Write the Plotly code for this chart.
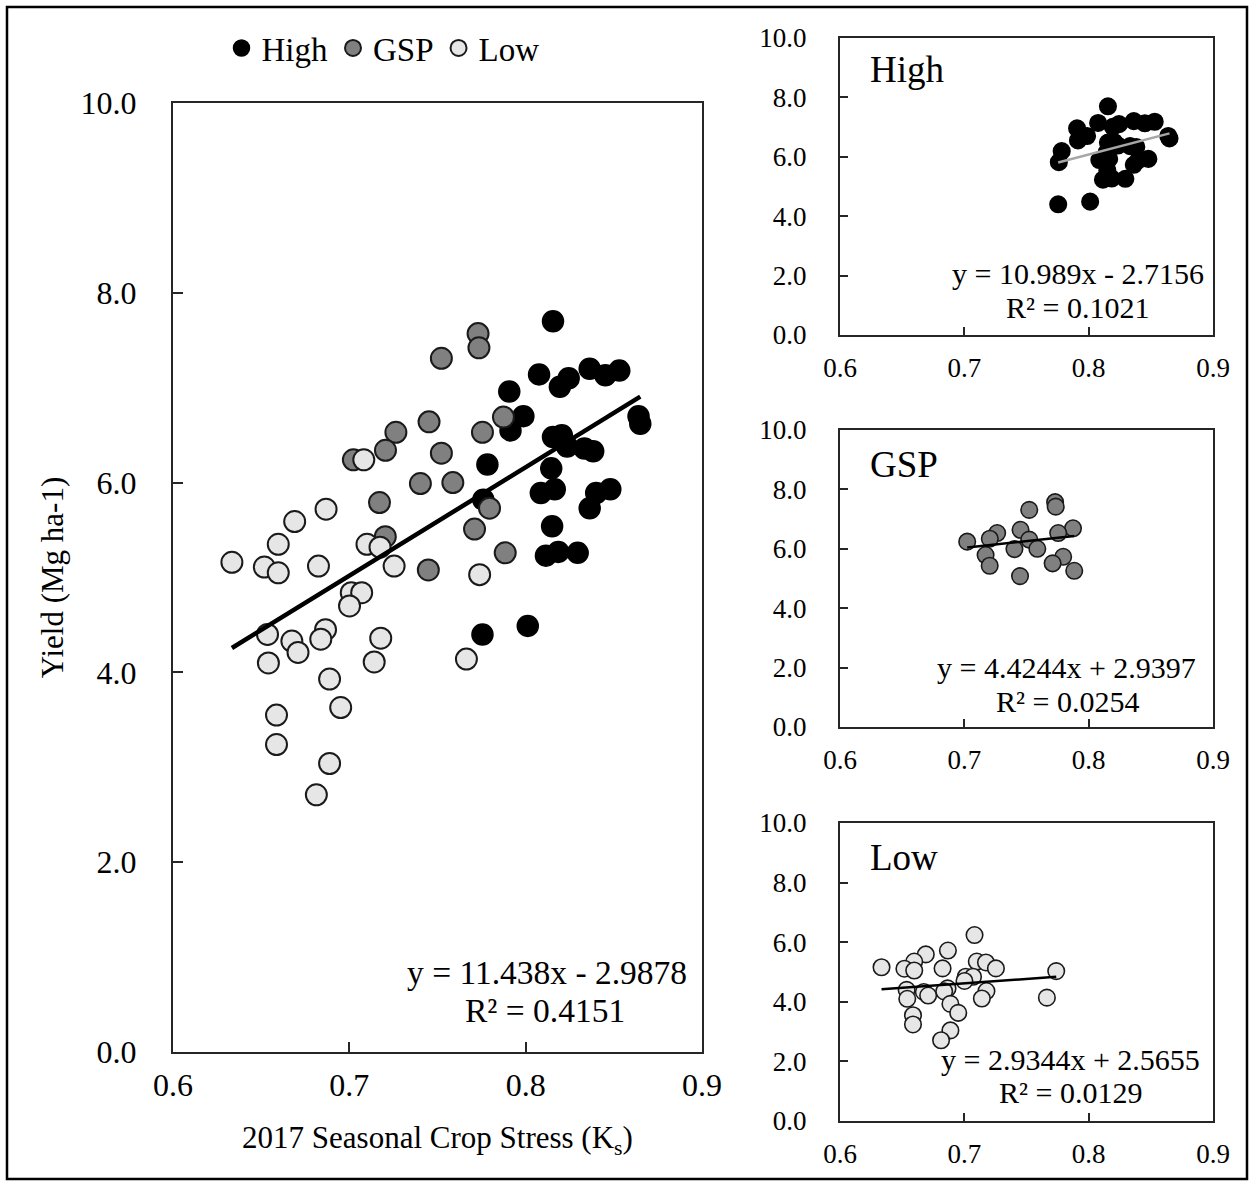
import plotly.graph_objects as go

# ---------------- data ----------------
high_x = [0.8155, 0.8076, 0.8194, 0.8244, 0.8363, 0.8452, 0.8531, 0.7907, 0.7987, 0.7914,
          0.8640, 0.8650, 0.8155, 0.8205, 0.8235, 0.8383, 0.8333, 0.8145, 0.7783, 0.8086,
          0.8165, 0.8400, 0.8480, 0.8363, 0.8150, 0.8115, 0.8185, 0.8295, 0.7755, 0.8012,
          0.7760]
high_y = [7.70, 7.14, 7.01, 7.10, 7.20, 7.13, 7.18, 6.96, 6.70, 6.55,
          6.70, 6.62, 6.48, 6.50, 6.38, 6.33, 6.36, 6.15, 6.19, 5.89,
          5.93, 5.89, 5.93, 5.73, 5.54, 5.23, 5.27, 5.26, 4.40, 4.49,
          5.82]

gsp_x = [0.7730, 0.7735, 0.7522, 0.7874, 0.7452, 0.7755, 0.7264, 0.7205, 0.7522, 0.7023,
         0.7403, 0.7587, 0.7171, 0.7795, 0.7710, 0.7204, 0.7884, 0.7448]
gsp_y = [7.57, 7.42, 7.31, 6.69, 6.64, 6.53, 6.53, 6.34, 6.31, 6.24,
         5.99, 6.00, 5.79, 5.73, 5.51, 5.43, 5.26, 5.08]

low_x = [0.7082, 0.6868, 0.6690, 0.6597, 0.7100, 0.7174, 0.6334, 0.6518, 0.6597, 0.6825,
         0.7254, 0.7739, 0.7011, 0.7070, 0.7001, 0.6536, 0.6865, 0.6674, 0.6709, 0.6838,
         0.7178, 0.6541, 0.7141, 0.7664, 0.6888, 0.6951, 0.6587, 0.6587, 0.6888, 0.6813]
low_y = [6.24, 5.72, 5.59, 5.35, 5.35, 5.32, 5.16, 5.11, 5.05, 5.12,
         5.12, 5.03, 4.84, 4.84, 4.70, 4.40, 4.45, 4.33, 4.21, 4.35,
         4.36, 4.10, 4.11, 4.14, 3.93, 3.63, 3.55, 3.24, 3.04, 2.71]

# trend-line coefficients (slope, intercept) and R² as printed on the chart
fit_all = (11.438, -2.9878, 0.4151)
fit_high = (10.989, -2.7156, 0.1021)
fit_gsp = (4.4244, 2.9397, 0.0254)
fit_low = (2.9344, 2.5655, 0.0129)

group_names = ["High", "GSP", "Low"]
x_ticks = [0.6, 0.7, 0.8, 0.9]
y_ticks = [0.0, 2.0, 4.0, 6.0, 8.0, 10.0]

# ---------------- styling ----------------
W, H = 1253, 1184
FONT = "Liberation Serif"
C_HIGH, C_GSP, C_LOW = "#000000", "#808080", "#e6e6e6"
EDGE = "#1a1a1a"
AXC = "#262626"


def px_x(p):
    return p / W


def px_y(p):
    return 1 - p / H


fig = go.Figure()


def eq_text(fit):
    a, b, _ = fit
    sign = "-" if b < 0 else "+"
    return f"y = {a:.3f}x {sign} {abs(b):.4f}" if abs(a) >= 10 else f"y = {a:.4f}x {sign} {abs(b):.4f}"


def line_trace(xs, fit, xa, ya, color, width):
    lo, hi = min(xs), max(xs)
    a, b, _ = fit
    return go.Scatter(x=[lo, hi], y=[a * lo + b, a * hi + b], mode="lines",
                      line=dict(color=color, width=width), showlegend=False,
                      hoverinfo="skip", xaxis=xa, yaxis=ya)


# main panel
fig.add_trace(go.Scatter(x=high_x, y=high_y, mode="markers", name=group_names[0],
                         marker=dict(size=21, color=C_HIGH, line=dict(color=C_HIGH, width=1.5)),
                         xaxis="x", yaxis="y"))
fig.add_trace(go.Scatter(x=gsp_x, y=gsp_y, mode="markers", name=group_names[1],
                         marker=dict(size=21, color=C_GSP, line=dict(color=EDGE, width=2)),
                         xaxis="x", yaxis="y"))
fig.add_trace(go.Scatter(x=low_x, y=low_y, mode="markers", name=group_names[2],
                         marker=dict(size=21, color=C_LOW, line=dict(color=EDGE, width=2)),
                         xaxis="x", yaxis="y"))
all_x = high_x + gsp_x + low_x
fig.add_trace(line_trace(all_x, fit_all, "x", "y", "#000000", 4.5))

# small panels
small = [
    (high_x, high_y, C_HIGH, C_HIGH, fit_high, "x2", "y2", "#a6a6a6"),
    (gsp_x, gsp_y, C_GSP, EDGE, fit_gsp, "x3", "y3", "#000000"),
    (low_x, low_y, C_LOW, EDGE, fit_low, "x4", "y4", "#000000"),
]
for xs, ys, fc, ec, fit, xa, ya, lc in small:
    fig.add_trace(go.Scatter(x=xs, y=ys, mode="markers", showlegend=False,
                             marker=dict(size=16.5, color=fc, line=dict(color=ec, width=1.6)),
                             xaxis=xa, yaxis=ya))
    fig.add_trace(line_trace(xs, fit, xa, ya, lc, 2.5))


def xaxis_cfg(dom, size, standoff, title=None):
    d = dict(domain=dom, range=[0.6, 0.9], tickvals=x_ticks, tickformat=".1f",
             ticks="inside", ticklen=10 if size > 28 else 8, tickwidth=2, tickcolor=AXC,
             showline=True, linecolor=AXC, linewidth=2, mirror=True,
             showgrid=False, zeroline=False, fixedrange=True,
             tickfont=dict(family=FONT, size=size, color="#000"),
             ticklabelstandoff=standoff, automargin=False)
    if title:
        d["title"] = dict(text=title, font=dict(family=FONT, size=31, color="#000"), standoff=24)
    return d


def yaxis_cfg(dom, anchor, size, standoff, title=None):
    d = dict(domain=dom, range=[0, 10], tickvals=y_ticks, tickformat=".1f", anchor=anchor,
             ticks="inside", ticklen=10 if size > 28 else 8, tickwidth=2, tickcolor=AXC,
             showline=True, linecolor=AXC, linewidth=2, mirror=True,
             showgrid=False, zeroline=False, fixedrange=True,
             tickfont=dict(family=FONT, size=size, color="#000"),
             ticklabelstandoff=standoff, automargin=False)
    if title:
        d["title"] = dict(text=title, font=dict(family=FONT, size=31, color="#000"), standoff=8)
    return d


main_xd = [px_x(173), px_x(702)]
main_yd = [px_y(1052), px_y(103)]
sx = [px_x(840), px_x(1213)]
high_yd = [px_y(335), px_y(38)]
gsp_yd = [px_y(727), px_y(430)]
low_yd = [px_y(1121), px_y(823)]

fig.update_layout(
    width=W, height=H, margin=dict(l=0, r=0, t=0, b=0),
    paper_bgcolor="white", plot_bgcolor="white",
    font=dict(family=FONT, color="#000"),
    xaxis=xaxis_cfg(main_xd, 32, 4, "2017 Seasonal Crop Stress (K<sub>s</sub>)") | dict(anchor="y"),
    yaxis=yaxis_cfg(main_yd, "x", 32, 28, "Yield (Mg ha-1)"),
    xaxis2=xaxis_cfg(sx, 27, 8) | dict(anchor="y2"),
    yaxis2=yaxis_cfg(high_yd, "x2", 27, 26),
    xaxis3=xaxis_cfg(sx, 27, 8) | dict(anchor="y3"),
    yaxis3=yaxis_cfg(gsp_yd, "x3", 27, 26),
    xaxis4=xaxis_cfg(sx, 27, 8) | dict(anchor="y4"),
    yaxis4=yaxis_cfg(low_yd, "x4", 27, 26),
    legend=dict(orientation="h", x=px_x(383), y=px_y(48), xanchor="center", yanchor="middle",
                font=dict(family=FONT, size=33, color="#000"), bgcolor="rgba(0,0,0,0)",
                itemwidth=30, tracegroupgap=0),
    showlegend=True,
)

ann = []


def add_eq(fit, xc1, yc1, xc2, yc2, size):
    ann.append(dict(text=eq_text(fit), x=px_x(xc1), y=px_y(yc1), xref="paper", yref="paper",
                    xanchor="center", yanchor="middle", showarrow=False,
                    font=dict(family=FONT, size=size, color="#000")))
    ann.append(dict(text=f"R² = {fit[2]:.4f}", x=px_x(xc2), y=px_y(yc2), xref="paper", yref="paper",
                    xanchor="center", yanchor="middle", showarrow=False,
                    font=dict(family=FONT, size=size, color="#000")))


add_eq(fit_all, 547, 972, 545, 1010, 33.5)
add_eq(fit_high, 1078, 273, 1077, 307, 30)
add_eq(fit_gsp, 1066, 667, 1067, 701, 30)
add_eq(fit_low, 1070, 1059, 1070, 1092, 30)

for name, yc in zip(group_names, [70, 464, 857]):
    ann.append(dict(text=name, x=px_x(868), y=px_y(yc), xref="paper", yref="paper",
                    xanchor="left", yanchor="middle", showarrow=False,
                    font=dict(family=FONT, size=37, color="#000")))

fig.update_layout(annotations=ann)

# outer frame around the whole figure
fig.add_shape(type="rect", xref="paper", yref="paper",
              x0=px_x(7), x1=px_x(1247), y0=px_y(1179), y1=px_y(7),
              line=dict(color="#000", width=2.5), fillcolor="rgba(0,0,0,0)", layer="below")

fig.write_html("out.html")
